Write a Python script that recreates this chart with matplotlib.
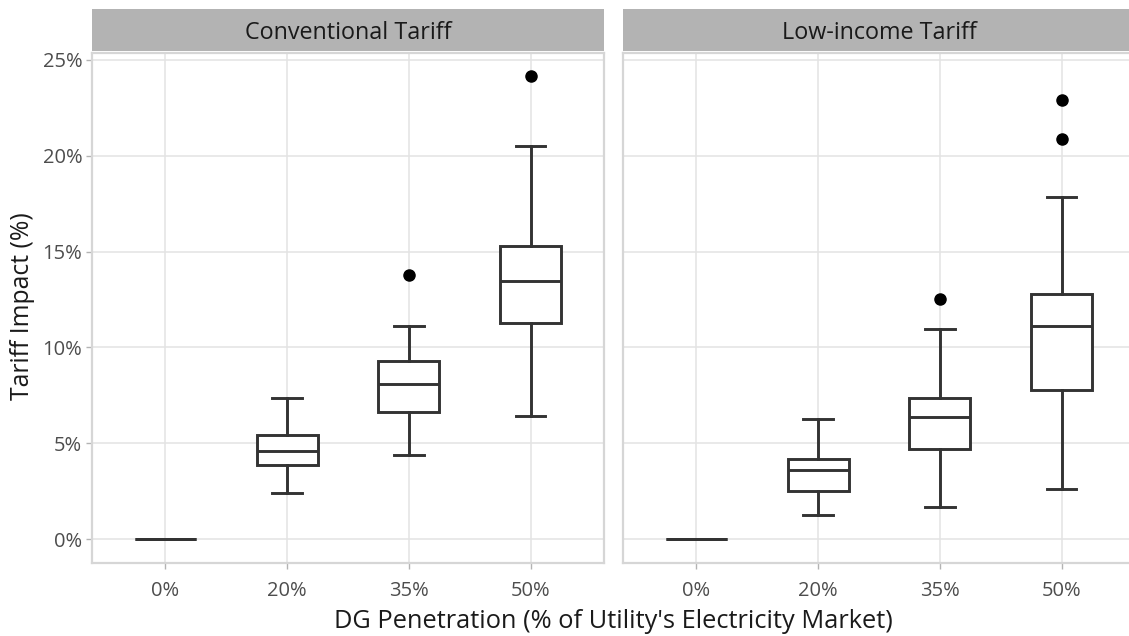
import matplotlib
matplotlib.use("Agg")
import matplotlib.pyplot as plt
from matplotlib.ticker import FuncFormatter

plt.rcParams['font.family'] = ['Open Sans', 'DejaVu Sans']

# --- data (values in %) ---
categories = ["0%", "20%", "35%", "50%"]
panels = ["Conventional Tariff", "Low-income Tariff"]

conv_whislo = [0, 2.43, 4.41, 6.41]
conv_q1 = [0, 3.88, 6.62, 11.28]
conv_med = [0, 4.60, 8.08, 13.45]
conv_q3 = [0, 5.42, 9.28, 15.30]
conv_whishi = [0, 7.39, 11.14, 20.50]
conv_fliers = [[], [], [13.8], [24.14]]

low_whislo = [0, 1.29, 1.69, 2.60]
low_q1 = [0, 2.52, 4.71, 7.80]
low_med = [0, 3.61, 6.38, 11.14]
low_q3 = [0, 4.19, 7.39, 12.77]
low_whishi = [0, 6.29, 10.98, 17.83]
low_fliers = [[], [], [12.5], [22.9, 20.84]]

y_ticks = [0, 5, 10, 15, 20, 25]


def make_stats(whislo, q1, med, q3, whishi, fliers):
    stats = []
    for i in range(len(categories)):
        stats.append(dict(whislo=whislo[i], q1=q1[i], med=med[i], q3=q3[i],
                          whishi=whishi[i], fliers=fliers[i], label=categories[i]))
    return stats


all_stats = [
    make_stats(conv_whislo, conv_q1, conv_med, conv_q3, conv_whishi, conv_fliers),
    make_stats(low_whislo, low_q1, low_med, low_q3, low_whishi, low_fliers),
]

# shared y range with ggplot-like 5% expansion
vals = []
for st in all_stats:
    for s in st:
        vals += [s['whislo'], s['whishi']] + list(s['fliers'])
ymin, ymax = min(vals), max(vals)
pad = (ymax - ymin) * 0.05

W, H = 1129, 636
fig = plt.figure(figsize=(W / 100, H / 100), dpi=100)

panel_lefts = [92, 623]
panel_w = 512
panel_top, panel_bot = 53, 562.5
line_col = "#333333"
box_lw = 2.1

for k, (left, title, stats) in enumerate(zip(panel_lefts, panels, all_stats)):
    ax = fig.add_axes([left / W, (H - panel_bot) / H, panel_w / W, (panel_bot - panel_top) / H])
    ax.bxp(stats, positions=range(1, len(categories) + 1), widths=0.5,
           capwidths=0.24, patch_artist=True, showfliers=True,
           boxprops=dict(facecolor="white", edgecolor=line_col, linewidth=box_lw),
           medianprops=dict(color=line_col, linewidth=box_lw),
           whiskerprops=dict(color=line_col, linewidth=box_lw),
           capprops=dict(color=line_col, linewidth=box_lw),
           flierprops=dict(marker="o", markerfacecolor="black",
                           markeredgecolor="black", markersize=8),
           zorder=3)
    ax.set_xlim(0.4, len(categories) + 0.6)
    ax.set_ylim(ymin - pad, ymax + pad)
    ax.set_xticks(range(1, len(categories) + 1))
    ax.set_xticklabels(categories)
    ax.set_yticks(y_ticks)
    ax.yaxis.set_major_formatter(FuncFormatter(lambda v, p: f"{v:.0f}%"))
    ax.grid(True, color="#E3E3E3", linewidth=1.1, zorder=0)
    ax.set_axisbelow(True)
    for sp in ax.spines.values():
        sp.set_color("#D6D6D6")
        sp.set_linewidth(1.6)
    ax.tick_params(axis="both", colors="#B3B3B3", length=4, width=1.0,
                   labelsize=14.5, labelcolor="#4D4D4D")
    ax.tick_params(axis="x", pad=9)
    ax.tick_params(axis="y", pad=3)
    if k > 0:
        ax.tick_params(axis="y", length=0, labelleft=False)

    # facet strip
    sx = fig.add_axes([left / W, (H - 51) / H, panel_w / W, 42 / H])
    sx.set_facecolor("#B3B3B3")
    sx.set_xticks([])
    sx.set_yticks([])
    for sp in sx.spines.values():
        sp.set_visible(False)
    sx.text(0.5, 0.42, title, ha="center", va="center", fontsize=16.8,
            color="#1A1A1A", transform=sx.transAxes)

fig.text(613 / W, 1 - 621 / H, "DG Penetration (% of Utility's Electricity Market)",
         ha="center", va="center", fontsize=18.3, color="#1A1A1A")
fig.text(23 / W, 1 - 306 / H, "Tariff Impact (%)", rotation=90,
         ha="center", va="center", fontsize=17.8, color="#1A1A1A")

fig.savefig("out.png", dpi=100)
